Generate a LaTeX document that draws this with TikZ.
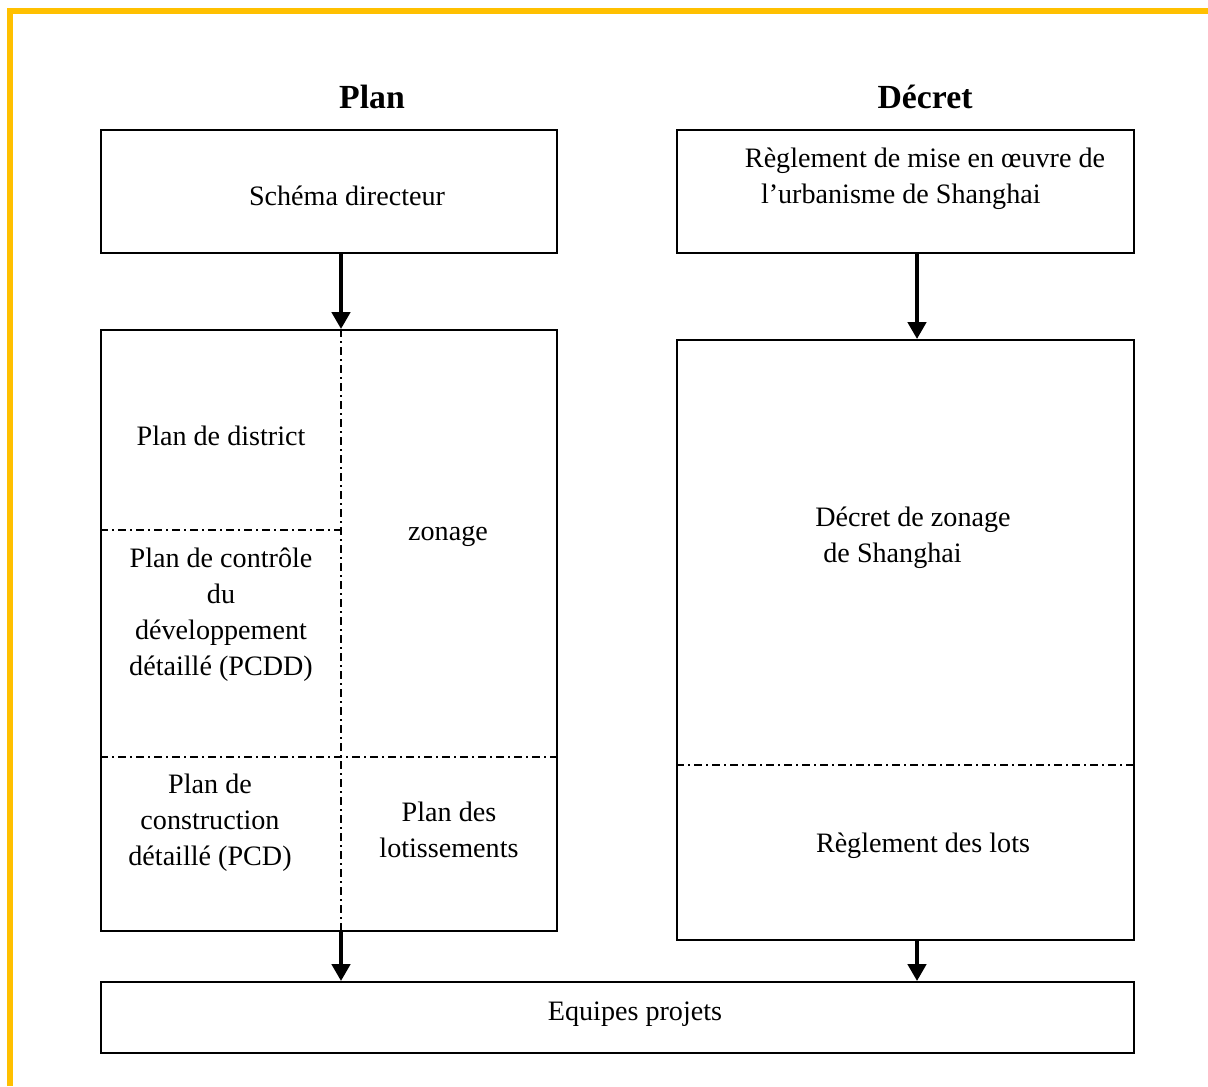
\documentclass[tikz,border=0pt]{standalone}
\usepackage{fontspec}
\setmainfont{Liberation Serif}
\usetikzlibrary{arrows.meta,positioning,calc}

\definecolor{frameorange}{HTML}{FFC000}

\begin{document}
\begin{tikzpicture}[
    x=0.025cm, y=-0.025cm,
    % Define box styles
    box/.style={
        rectangle,
        draw=black,
        line width=1.4pt,
        inner sep=0pt
    },
    lbl/.style={
        font=\fontsize{20}{25.6}\selectfont,
        align=center,
        inner sep=0pt,
        yshift=-0.1cm
    },
    title/.style={
        font=\fontsize{24}{28}\selectfont\bfseries,
        inner sep=0pt
    },
    divider/.style={
        line width=0.8pt,
        dash pattern=on 0.2cm off 0.1cm on 0.05cm off 0.1cm
    },
    arr/.style={
        line width=0.1cm,
        -{Triangle[length=0.42cm,width=0.45cm]}
    }
]
    \useasboundingbox (0,0) rectangle (1208,1086);
    % --- orange frame ---
    \draw[frameorange, line width=0.16cm] (10,1086) -- (10,11) -- (1208,11);

    % --- titles ---
    \node[title] (plantitle) at (372,97) {Plan};
    \node[title] (decrettitle) at (925,97) {Décret};

    % --- top row ---
    \node[box, minimum width=456*0.025cm, minimum height=123*0.025cm] (schema) at (329,191.5) {};
    \node[box, minimum width=457*0.025cm, minimum height=123*0.025cm] (reglement) at (905.5,191.5) {};
    \node[lbl] (schematxt) at (347,192) {Schéma directeur};
    \node[lbl, align=left] (reglementtxt) at (925,175) {Règlement de mise en œuvre de\\\hspace{0.4cm}l’urbanisme de Shanghai};

    % --- middle row ---
    \node[box, minimum width=456*0.025cm, minimum height=601*0.025cm] (plan) at (329,630.5) {};
    \node[box, minimum width=457*0.025cm, minimum height=600*0.025cm] (decret) at (905.5,640) {};
    \coordinate (lsplit) at (341,0);
    \coordinate (rsplit) at (917,0);

    % dash-dot partitions
    \draw[divider] (plan.north -| lsplit) -- (plan.south -| lsplit);
    \draw[divider] (plan.west |- 0,530) -- (341,530);
    \draw[divider] (plan.west |- 0,757) -- (plan.east |- 0,757);
    \draw[divider] (decret.west |- 0,765) -- (decret.east |- 0,765);

    \node[lbl] (district) at (221,432) {Plan de district};
    \node[lbl] (zonage) at (448,532) {zonage};
    \node[lbl] (pcdd) at (221,611) {Plan de contrôle\\du\\développement\\détaillé (PCDD)};
    \node[lbl] (pcd) at (210,819) {Plan de\\construction\\détaillé (PCD)};
    \node[lbl] (lotissements) at (449,826) {Plan des\\lotissements};
    \node[lbl, align=left] (zonagedecret) at (913,534) {Décret de zonage\\\hspace{0.2cm}de Shanghai};
    \node[lbl] (lots) at (923,842) {Règlement des lots};

    % --- bottom row ---
    \node[box, minimum width=1033*0.025cm, minimum height=71*0.025cm] (equipes) at (617.5,1017.5) {};
    \node[lbl] (equipestxt) at (635,1010) {Equipes projets};

    % --- arrows ---
    \draw[arr] (schema.south -| lsplit) -- (plan.north -| lsplit);
    \draw[arr] (reglement.south -| rsplit) -- (decret.north -| rsplit);
    \draw[arr] (plan.south -| lsplit) -- (equipes.north -| lsplit);
    \draw[arr] (decret.south -| rsplit) -- (equipes.north -| rsplit);
\end{tikzpicture}
\end{document}
